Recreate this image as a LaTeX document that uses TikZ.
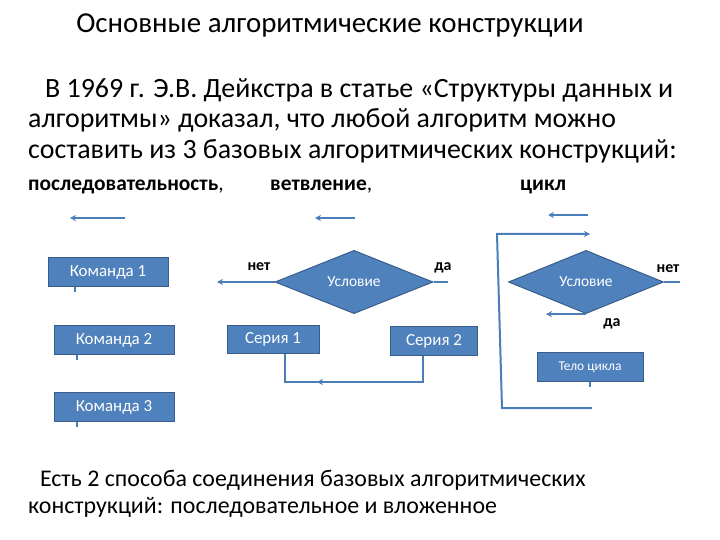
\documentclass[tikz,border=0pt]{standalone}
\usepackage{fontspec}
\setmainfont{Carlito}
\usetikzlibrary{arrows.meta, positioning, shapes.geometric}
\definecolor{boxblue}{RGB}{79,129,189}
\definecolor{boxedge}{RGB}{56,93,138}
\definecolor{lineblue}{RGB}{74,126,187}

\begin{document}
\begin{tikzpicture}[x=1bp,y=-1bp,
    cmd/.style={draw=boxedge,fill=boxblue,text=white,line width=1bp,inner sep=0pt,
      minimum height=29bp,font=\fontsize{17}{19}\selectfont},
    cond/.style={diamond,draw=boxedge,fill=boxblue,text=white,line width=1bp,
      inner sep=0pt,font=\fontsize{15.5}{17}\selectfont},
    conn/.style={lineblue,line width=2bp},
    tip/.style={conn,-{Stealth[length=6bp,width=6bp]}},
    lbl/.style={font=\bfseries\fontsize{16}{18}\selectfont},
    txt/.style={anchor=base west,inner sep=0pt,font=\fontsize{28}{32}\selectfont},
    kind/.style={anchor=base west,inner sep=0pt,font=\fontsize{21.5}{24}\selectfont}]
  \useasboundingbox (0,0) rectangle (720,540);
  % heading and text
  \node[anchor=base,inner sep=0pt,font=\fontsize{29}{32}\selectfont] (title) at (330,33)
    {Основные алгоритмические конструкции};
  \node[txt] (par1) at (45,98) {В 1969 г. Э.В. Дейкстра в статье «Структуры данных и};
  \node[txt] (par2) at (28,128) {алгоритмы» доказал, что любой алгоритм можно};
  \node[txt] (par3) at (28,159) {составить из 3 базовых алгоритмических конструкций:};
  \node[kind] (seqname) at (28,191) {\textbf{последовательность},};
  \node[kind] (ifname) at (270,191) {\textbf{ветвление},};
  \node[kind] (loopname) at (520,191) {\textbf{цикл}};
  \node[anchor=base west,inner sep=0pt,font=\fontsize{24}{28}\selectfont] (end1) at (40,486)
    {Есть 2 способа соединения базовых алгоритмических};
  \node[anchor=base west,inner sep=0pt,font=\fontsize{24}{28}\selectfont] (end2) at (28,513)
    {конструкций: последовательное и вложенное};

  % sequence
  \coordinate (seqa) at (125,218);
  \coordinate (seqb) at (70,218);
  \draw[tip] (seqa) -- (seqb);
  \node[cmd,minimum width=120bp] (k1) at (108,272) {Команда 1};
  \node[cmd,minimum width=120bp] (k2) at (114,340) {Команда 2};
  \node[cmd,minimum width=120bp] (k3) at (114,407) {Команда 3};
  \draw[conn] ([xshift=-33bp]k1.south) -- ++(0,5);
  \draw[conn] ([xshift=-37bp]k2.south) -- ++(0,5);
  \draw[conn] ([xshift=-37bp]k3.south) -- ++(0,5);

  % branching
  \coordinate (ifa) at (355,218);
  \coordinate (ifb) at (315,218);
  \draw[tip] (ifa) -- (ifb);
  \node[cond,minimum width=158bp,minimum height=52bp] (if) at (354,282) {Условие};
  \node[lbl] (no1) at (259,267) {нет};
  \node[lbl] (yes1) at (443,268) {да};
  \coordinate (ifl) at (217,282);
  \coordinate (ifr) at (448,282);
  \draw[tip] (if.west) -- (ifl);
  \draw[conn] (if.east) -- (ifr);
  \node[cmd,minimum width=92bp,minimum height=28bp] (s1) at (273,339) {Серия 1};
  \node[cmd,minimum width=87bp] (s2) at (434,341) {Серия 2};
  \coordinate (bl) at (285,382);
  \coordinate (br) at (423,382);
  \coordinate (bm) at (317,382);
  \draw[conn] (s1.south -| bl) -- (bl) -- (br) -- (s2.south -| br);
  \draw[tip] (br) -- (bm);

  % loop
  \coordinate (wha) at (588,215);
  \coordinate (whb) at (548,215);
  \draw[tip] (wha) -- (whb);
  \node[cond,minimum width=155bp,minimum height=53bp] (wh) at (586,282) {Условие};
  \node[lbl] (no2) at (668,269) {нет};
  \node[lbl] (yes2) at (612,324) {да};
  \coordinate (whr) at (680,282);
  \draw[conn] (wh.east) -- (whr);
  \draw[tip] (wh.south) -- ++(-40,0);
  \node[cmd,minimum width=106bp,font=\fontsize{13.5}{15}\selectfont] (body) at (590,367) {Тело цикла};
  \draw[conn] (body.south) -- ++(0,5);
  \coordinate (lb) at (592,408);
  \coordinate (lc) at (502,408);
  \coordinate (ld) at (497,234);
  \coordinate (le) at (590,234);
  \draw[tip] (lb) -- (lc) -- (ld) -- (le);
\end{tikzpicture}
\end{document}
